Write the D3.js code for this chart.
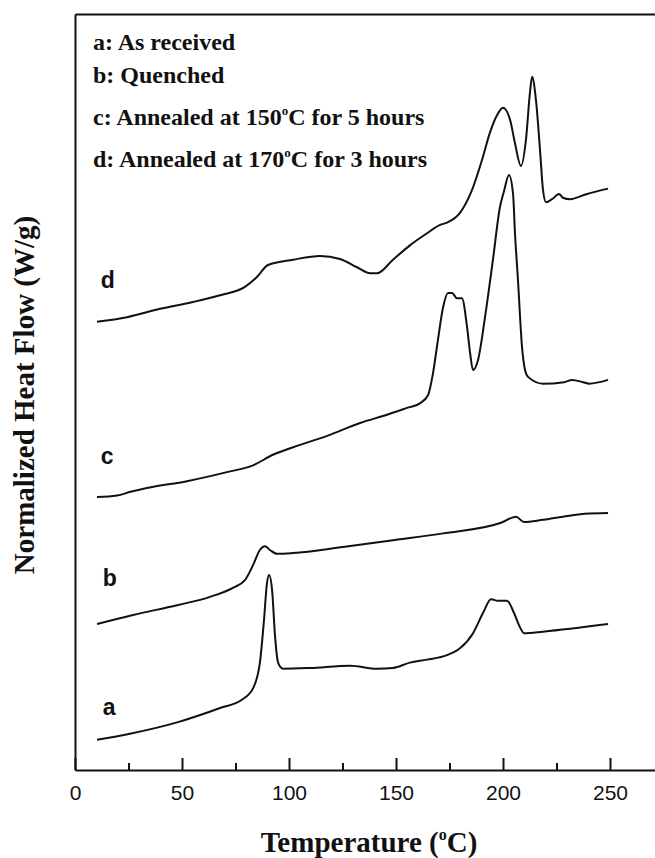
<!DOCTYPE html>
<html>
<head>
<meta charset="utf-8">
<script src="https://cdn.jsdelivr.net/npm/d3@7"></script>
<style>
  body { margin: 0; background: #fff; }
  svg { display: block; }
</style>
</head>
<body>
<div id="chart"></div>
<script>
// temperature (°C) and normalized heat flow (arbitrary offset units)
const tempA = [10.3, 25.7, 47.7, 67.8, 78.0, 83.2, 86.4, 88.3, 89.7, 90.7, 92.1, 93.5, 94.9, 97.2, 109.8, 128.5, 141.1, 148.6, 156.5, 164.5, 173.8, 179.9, 186.0, 190.7, 194.4, 197.2, 201.9, 205.1, 207.9, 209.8, 218.7, 249.1];
const flowA = [4.0, 4.8, 6.3, 8.2, 9.3, 10.8, 14.2, 19.8, 24.7, 25.8, 23.8, 17.6, 14.2, 13.4, 13.5, 13.8, 13.4, 13.5, 14.2, 14.6, 15.2, 16.1, 18.1, 20.8, 22.6, 22.4, 22.4, 20.8, 18.9, 18.1, 18.3, 19.3];

const tempB = [10.3, 27.1, 47.7, 63.1, 73.8, 79.4, 83.2, 86.4, 88.8, 91.1, 94.4, 101.9, 125.2, 148.6, 172.0, 199.1, 206.1, 209.8, 218.7, 238.3, 249.1];
const flowB = [19.3, 20.5, 21.8, 22.9, 24.1, 25.1, 27.1, 29.1, 29.6, 29.1, 28.6, 28.7, 29.5, 30.4, 31.3, 32.7, 33.5, 32.8, 33.1, 33.9, 34.0];

const tempC = [10.3, 19.6, 26.0, 33.6, 52.3, 71.0, 83.2, 92.5, 101.9, 117.8, 133.2, 145.8, 155.1, 161.2, 165.0, 167.3, 169.6, 172.0, 174.3, 176.2, 178.5, 180.8, 183.2, 184.6, 186.0, 188.3, 191.6, 195.3, 198.6, 200.5, 202.8, 204.7, 205.6, 207.0, 208.9, 210.3, 211.7, 218.7, 228.5, 232.2, 237.4, 240.2, 249.1];
const flowC = [36.1, 36.3, 36.8, 37.3, 38.2, 39.4, 40.3, 41.7, 42.7, 44.2, 45.9, 47.0, 47.9, 48.5, 49.6, 52.5, 56.9, 61.2, 63.1, 63.1, 62.4, 62.4, 58.6, 55.2, 52.9, 54.2, 59.9, 67.5, 74.5, 76.6, 78.7, 76.2, 71.0, 64.8, 55.9, 52.9, 52.0, 51.1, 51.3, 51.6, 51.3, 51.1, 51.6];

const tempD = [10.3, 24.3, 39.7, 55.1, 67.8, 79.4, 85.0, 90.2, 101.9, 114.5, 123.8, 131.8, 137.9, 141.1, 148.6, 156.5, 164.5, 170.6, 173.8, 179.9, 185.5, 190.2, 193.9, 197.2, 200.0, 203.3, 205.6, 208.4, 210.7, 212.6, 213.6, 215.4, 217.3, 218.7, 220.1, 222.9, 226.2, 228.0, 231.3, 239.3, 249.1];
const flowD = [59.3, 59.9, 61.0, 61.9, 62.8, 63.9, 65.2, 66.8, 67.5, 68.0, 67.6, 66.5, 65.7, 65.7, 67.5, 69.4, 71.0, 72.1, 72.4, 73.7, 76.7, 80.7, 84.3, 86.6, 87.6, 86.0, 82.9, 79.9, 83.3, 89.6, 91.7, 88.6, 82.0, 76.7, 75.1, 75.5, 76.2, 75.7, 75.5, 76.2, 76.9];

const curveNames = ["a", "b", "c", "d"];
// where each curve letter sits (temperature, flow)
const nameTemp = [13, 13, 12, 12];
const nameFlow = [7.3, 24.3, 40.5, 63.7];

const legendLines = [
  ["a: As received"],
  ["b: Quenched"],
  ["c: Annealed at 150", "C for 5 hours"],
  ["d: Annealed at 170", "C for 3 hours"]
];

const majorTicks = [0, 50, 100, 150, 200, 250];
const minorTicks = [25, 75, 125, 175, 225];

const W = 655, H = 858;
const plotLeft = 75, plotTop = 14, plotBottom = 770;

const svg = d3.select("#chart").append("svg")
  .attr("width", W)
  .attr("height", H);

// the frame runs past the right edge of the picture
const x = d3.scaleLinear().domain([0, 300]).range([plotLeft, plotLeft + 300 * 2.14]);
const y = d3.scaleLinear().domain([0, 100]).range([plotBottom, plotTop]);

const ink = "#111";

// frame: bottom axis with inward ticks, left and top plain lines
const minorAxis = d3.axisBottom(x).tickValues(minorTicks).tickSize(-7).tickSizeOuter(0).tickFormat("");
svg.append("g")
  .attr("transform", `translate(0,${plotBottom})`)
  .call(minorAxis)
  .call(g => g.select(".domain").remove());

const xAxis = d3.axisBottom(x).tickValues(majorTicks).tickSize(-12).tickSizeOuter(0).tickFormat(d3.format("d"));
const gx = svg.append("g")
  .attr("transform", `translate(0,${plotBottom})`)
  .call(xAxis);
gx.selectAll("text")
  .attr("y", 30)
  .attr("dy", null)
  .attr("fill", ink)
  .style("font-family", "'Liberation Sans', Arial, sans-serif")
  .style("font-size", "21px");

svg.selectAll(".tick line").attr("stroke", ink).attr("stroke-width", 2);

svg.append("g")
  .attr("transform", `translate(${plotLeft},0)`)
  .call(d3.axisLeft(y).ticks(0).tickSizeOuter(0));

svg.append("g")
  .attr("transform", `translate(0,${plotTop})`)
  .call(d3.axisTop(x).ticks(0).tickSizeOuter(0));

svg.selectAll(".domain").attr("stroke", ink).attr("stroke-width", 2);

// curves
const series = [
  { t: tempA, q: flowA },
  { t: tempB, q: flowB },
  { t: tempC, q: flowC },
  { t: tempD, q: flowD }
];

const line = d3.line()
  .x(d => x(d[0]))
  .y(d => y(d[1]))
  .curve(d3.curveMonotoneX);

series.forEach(s => {
  svg.append("path")
    .datum(d3.zip(s.t, s.q))
    .attr("fill", "none")
    .attr("stroke", ink)
    .attr("stroke-width", 2)
    .attr("stroke-linejoin", "round")
    .attr("d", line);
});

// curve letters
svg.selectAll(".curve-name")
  .data(curveNames)
  .enter().append("text")
  .attr("class", "curve-name")
  .attr("x", (d, i) => x(nameTemp[i]))
  .attr("y", (d, i) => y(nameFlow[i]))
  .attr("fill", ink)
  .style("font-family", "'Liberation Sans', Arial, sans-serif")
  .style("font-weight", "bold")
  .style("font-size", "23px")
  .text(d => d);

// legend
const legendBase = [50, 83, 125, 167];
const legend = svg.selectAll(".legend")
  .data(legendLines)
  .enter().append("text")
  .attr("class", "legend")
  .attr("x", 93)
  .attr("y", (d, i) => legendBase[i])
  .attr("fill", ink)
  .style("font-family", "'Liberation Serif', 'Times New Roman', serif")
  .style("font-weight", "bold")
  .style("font-size", "24px");

legend.each(function(parts) {
  const t = d3.select(this);
  t.append("tspan").text(parts[0]);
  if (parts.length > 1) {
    t.append("tspan").attr("dy", -10).style("font-size", "13px").text("o");
    t.append("tspan").attr("dy", 10).text(parts[1]);
  }
});

// axis titles
const xTitle = svg.append("text")
  .attr("x", 369)
  .attr("y", 852)
  .attr("text-anchor", "middle")
  .attr("fill", ink)
  .style("font-family", "'Liberation Serif', 'Times New Roman', serif")
  .style("font-weight", "bold")
  .style("font-size", "29px");
xTitle.append("tspan").text("Temperature (");
xTitle.append("tspan").attr("dy", -12).style("font-size", "16px").text("o");
xTitle.append("tspan").attr("dy", 12).text("C)");

svg.append("text")
  .attr("transform", "translate(34,395) rotate(-90)")
  .attr("text-anchor", "middle")
  .attr("fill", ink)
  .style("font-family", "'Liberation Serif', 'Times New Roman', serif")
  .style("font-weight", "bold")
  .style("font-size", "29px")
  .text("Normalized Heat Flow (W/g)");
</script>
</body>
</html>
